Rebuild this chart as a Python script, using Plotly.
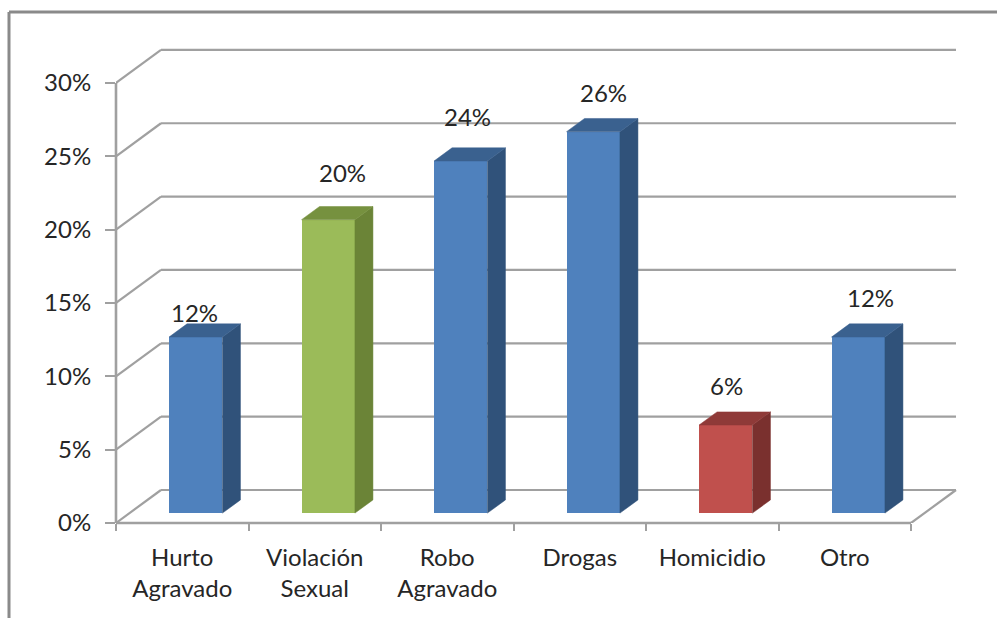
import plotly.graph_objects as go

categories = ["Hurto<br>Agravado", "Violación<br>Sexual", "Robo<br>Agravado", "Drogas", "Homicidio", "Otro"]
values = [12, 20, 24, 26, 6, 12]
front_colors = ["#4F81BD", "#9BBB59", "#4F81BD", "#4F81BD", "#C0504D", "#4F81BD"]
top_colors = ["#3A618F", "#76913F", "#3A618F", "#3A618F", "#8F3A38", "#3A618F"]
side_colors = ["#30527A", "#6B8437", "#30527A", "#30527A", "#7A302E", "#30527A"]
y_ticks = [0, 5, 10, 15, 20, 25, 30]
label_dx_px = [-1, 14, 7, 10, 1, 12]
label_dy_px = [25, 47, 45, 39, 40, 40]

W, H = 997, 618
L, R, T, B = 116, 33, 44, 95
PX_X = 132.5
PX_Y = 14.67
DX = 45 / PX_X      # depth shift of the floor, in category units
DY = 33 / PX_Y      # depth shift of the floor, in percent units
D1, D2 = 0.30, 0.70  # bar depth start / end as a fraction of the floor
BAR_W = 0.403
GRID = "#A0A0A0"
TEXT = "#262626"
FONT = "Lato"
FS = 24

x_range = [-0.5, (W - R - L) / PX_X - 0.5]
y_range = [0, (H - B - T) / PX_Y]

fig = go.Figure()

shapes = []


def seg(x0, y0, x1, y1, width=2.2, color=GRID, xref="x", yref="y"):
    shapes.append(dict(type="line", xref=xref, yref=yref, x0=x0, y0=y0, x1=x1, y1=y1,
                       layer="below", line=dict(color=color, width=width)))


xl, xr = -0.5, len(categories) - 0.5
for t in y_ticks:
    seg(xl, t, xl + DX, t + DY)
    seg(xl + DX, t + DY, xr + DX, t + DY)
seg(0, y_ticks[0], 0, y_ticks[-1], width=2.6, xref="paper")   # value axis line
seg(xl, 0, xr, 0, width=2.6, yref="paper")                    # category axis line
seg(xr, 0, xr + DX, DY)

xs = [i + D1 * DX for i in range(len(values))]
base = D1 * DY
fig.add_trace(go.Bar(
    x=xs, y=values, base=[base] * len(values), width=BAR_W,
    marker=dict(color=front_colors, line=dict(width=0)),
    showlegend=False, hoverinfo="skip",
))

ddx = (D2 - D1) * DX
ddy = (D2 - D1) * DY
for x, v, tc, sc in zip(xs, values, top_colors, side_colors):
    left, right = x - BAR_W / 2, x + BAR_W / 2
    top = v + base
    fig.add_trace(go.Scatter(
        x=[right, right + ddx, right + ddx, right, right],
        y=[base, base + ddy, top + ddy, top, base],
        mode="lines", fill="toself", fillcolor=sc, line=dict(color=sc, width=0.5),
        showlegend=False, hoverinfo="skip",
    ))
    fig.add_trace(go.Scatter(
        x=[left, right, right + ddx, left + ddx, left],
        y=[top, top, top + ddy, top + ddy, top],
        mode="lines", fill="toself", fillcolor=tc, line=dict(color=tc, width=0.5),
        showlegend=False, hoverinfo="skip",
    ))

annotations = [
    dict(x=x, y=v + base, xref="x", yref="y", text=f"{v}%", showarrow=False,
         xshift=dx, yshift=dy, xanchor="center", yanchor="middle",
         font=dict(family=FONT, size=FS, color=TEXT))
    for x, v, dx, dy in zip(xs, values, label_dx_px, label_dy_px)
]

# outer picture frame, left and top edges only
pw, ph = W - L - R, H - T - B
fx = (9 - L) / pw
fy_top = (H - B - 12) / ph
fy_bot = (H - B - H) / ph
for (a, b, c, d) in [(fx, fy_bot, fx, fy_top), (fx, fy_top, (W - L) / pw, fy_top)]:
    shapes.append(dict(type="line", xref="paper", yref="paper", x0=a, y0=b, x1=c, y1=d,
                       layer="below", line=dict(color="#8A8A8A", width=3)))

fig.update_layout(
    width=W, height=H, autosize=False,
    margin=dict(l=L, r=R, t=T, b=B, pad=0),
    paper_bgcolor="white", plot_bgcolor="white",
    shapes=shapes, annotations=annotations, bargap=0,
    font=dict(family=FONT, size=FS, color=TEXT),
    xaxis=dict(
        range=x_range, showgrid=False, zeroline=False, showline=False,
        tickmode="array", tickvals=list(range(len(categories))), ticktext=categories,
        ticks="", ticklabelstandoff=18, tickangle=0,
        tickfont=dict(family=FONT, size=FS, color=TEXT),
        minor=dict(tickmode="array", tickvals=[i - 0.5 for i in range(len(categories) + 1)],
                   ticks="outside", ticklen=7, tickwidth=2, tickcolor=GRID, showgrid=False),
    ),
    yaxis=dict(
        range=y_range, showgrid=False, zeroline=False, showline=False,
        tickmode="array", tickvals=y_ticks, ticktext=[f"{t}%" for t in y_ticks],
        ticks="outside", ticklen=10, tickwidth=2, tickcolor=GRID, ticklabelstandoff=9,
        tickfont=dict(family=FONT, size=FS, color=TEXT),
    ),
)

fig.write_html("out.html", config={"displayModeBar": False},
               post_script="document.body.style.margin='0';")
